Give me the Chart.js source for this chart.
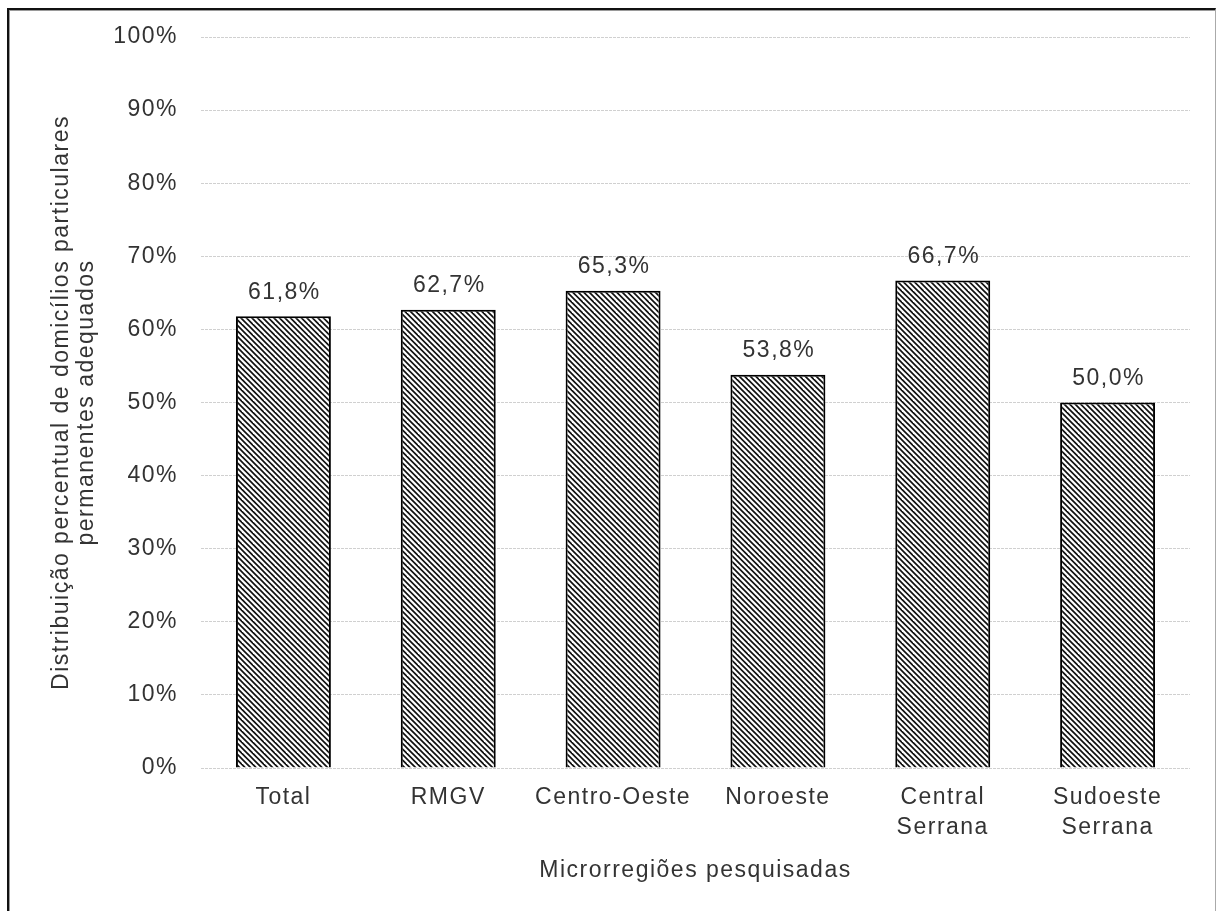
<!DOCTYPE html>
<html lang="pt-BR">
<head>
<meta charset="utf-8">
<title>Domicílios particulares permanentes adequados</title>
<script src="https://cdn.jsdelivr.net/npm/chart.js@4.4.1/dist/chart.umd.min.js"></script>
<style>
  html, body { margin: 0; padding: 0; background: #ffffff; overflow: hidden; }
  #frame {
    position: absolute; left: 7px; top: 8px; width: 1206px; height: 1000px;
    border-top: 2px solid #111; border-left: 2px solid #111; border-right: 1px solid #aaa;
    box-shadow: inset 1px 1px 0 #9a9a9a;
  }
  #wrap { position: absolute; left: 0; top: 0; width: 1216px; height: 911px; }
</style>
</head>
<body>
<div id="frame"></div>
<div id="wrap"><canvas id="chart" width="1216" height="911"></canvas></div>
<script>
// Microrregiões pesquisadas
const categories = ['Total', 'RMGV', 'Centro-Oeste', 'Noroeste', ['Central', 'Serrana'], ['Sudoeste', 'Serrana']];
// % de domicílios particulares permanentes adequados
const values = [61.8, 62.7, 65.3, 53.8, 66.7, 50.0];
// eixo Y: 0% a 100% de 10 em 10
const yTicks = [0, 10, 20, 30, 40, 50, 60, 70, 80, 90, 100];

const FONT = '"Liberation Sans", Arial, sans-serif';
const TEXT = '#333333';
const SIZE = 23;
const SPACING = '1.5px';

function pct(v) { return v.toFixed(1).replace('.', ',') + '%'; }

// hachura diagonal "\\" das barras
function hatch() {
  const s = 11;
  const c = document.createElement('canvas');
  c.width = s; c.height = s;
  const g = c.getContext('2d');
  g.fillStyle = '#ffffff';
  g.fillRect(0, 0, s, s);
  g.strokeStyle = '#111111';
  g.lineWidth = 1.7;
  for (let k = -3; k <= 3; k++) {
    const x0 = k * s / 2;
    g.beginPath();
    g.moveTo(x0 - 2, -2);
    g.lineTo(x0 + s + 2, s + 2);
    g.stroke();
  }
  return g.createPattern(c, 'repeat');
}

// espaçamento entre letras do texto do gráfico
const spacingPlugin = {
  id: 'spacing',
  beforeUpdate(chart) { chart.ctx.letterSpacing = SPACING; },
  beforeLayout(chart) { chart.ctx.letterSpacing = SPACING; },
  beforeDraw(chart) { chart.ctx.letterSpacing = SPACING; }
};

// rótulos de valor acima das barras
const valueLabels = {
  id: 'valueLabels',
  afterDatasetsDraw(chart) {
    const ctx = chart.ctx;
    const meta = chart.getDatasetMeta(0);
    ctx.save();
    ctx.letterSpacing = SPACING;
    ctx.font = SIZE + 'px ' + FONT;
    ctx.fillStyle = TEXT;
    ctx.textAlign = 'center';
    ctx.textBaseline = 'middle';
    meta.data.forEach((bar, i) => {
      const v = chart.data.datasets[0].data[i];
      ctx.fillText(pct(v), bar.x + 1, bar.y - 24);
    });
    ctx.restore();
  }
};

new Chart(document.getElementById('chart'), {
  type: 'bar',
  data: {
    labels: categories,
    datasets: [{
      data: values,
      backgroundColor: hatch(),
      borderColor: '#000000',
      borderWidth: 2,
      borderSkipped: 'start',
      barPercentage: 0.576,
      categoryPercentage: 1.0
    }]
  },
  options: {
    responsive: false,
    animation: false,
    devicePixelRatio: 1,
    layout: { padding: { left: 49.5, top: 37, right: 26, bottom: 27.5 } },
    plugins: { legend: { display: false }, tooltip: { enabled: false } },
    scales: {
      x: {
        afterFit(scale) { scale.height = 115.5; },
        grid: { display: false, drawTicks: false },
        border: { display: false },
        ticks: {
          color: TEXT,
          padding: 15,
          maxRotation: 0,
          autoSkip: false,
          font: { family: FONT, size: SIZE, lineHeight: 30 / SIZE }
        },
        title: {
          display: true,
          text: 'Microrregiões pesquisadas',
          color: TEXT,
          padding: { top: 15.5, bottom: 0 },
          font: { family: FONT, size: SIZE, lineHeight: 25 / SIZE }
        }
      },
      y: {
        min: 0,
        max: 100,
        afterBuildTicks(scale) { scale.ticks = yTicks.map(v => ({ value: v })); },
        afterFit(scale) { scale.width = 151.5; },
        grid: { color: '#d0d0d0', lineWidth: 1, drawTicks: false },
        border: { display: false, dash: [3, 1] },
        ticks: {
          color: TEXT,
          padding: 23,
          callback: v => v + '%',
          font: { family: FONT, size: SIZE }
        },
        title: {
          display: true,
          text: ['Distribuição percentual de domicílios particulares', 'permanentes adequados'],
          color: TEXT,
          padding: { top: 0, bottom: 0 },
          font: { family: FONT, size: SIZE, lineHeight: 25 / SIZE }
        }
      }
    }
  },
  plugins: [spacingPlugin, valueLabels]
});
</script>
</body>
</html>
